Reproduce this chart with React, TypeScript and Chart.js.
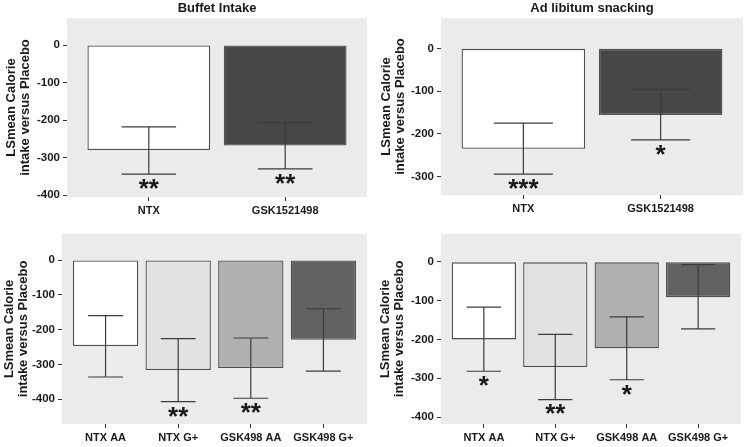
import React, { useEffect, useRef } from "react";
import { Chart, registerables } from "chart.js";

Chart.register(...registerables);

// ---------- data ----------
const topCategories = ["NTX", "GSK1521498"];
const bottomCategories = ["NTX AA", "NTX G+", "GSK498 AA", "GSK498 G+"];

const buffetTopMeans = [-280, -268];
const buffetTopErrHigh = [-218, -207];
const buffetTopErrLow = [-344, -330];
const buffetTopStars = ["**", "**"];
const buffetTopTicks = [0, -100, -200, -300, -400];

const snackTopMeans = [-235, -156];
const snackTopErrHigh = [-175, -96];
const snackTopErrLow = [-294, -214];
const snackTopStars = ["***", "*"];
const snackTopTicks = [0, -100, -200, -300];

const buffetBottomMeans = [-247, -316, -310, -229];
const buffetBottomErrHigh = [-160, -226, -224, -140];
const buffetBottomErrLow = [-336, -407, -397, -319];
const buffetBottomStars = ["", "**", "**", ""];
const buffetBottomTicks = [0, -100, -200, -300, -400];

const snackBottomMeans = [-200, -271, -223, -91];
const snackBottomErrHigh = [-117, -187, -142, -7];
const snackBottomErrLow = [-282, -355, -304, -173];
const snackBottomStars = ["*", "**", "*", ""];
const snackBottomTicks = [0, -100, -200, -300, -400];

const topColors = ["#ffffff", "#474747"];
const bottomColors = ["#ffffff", "#e2e2e2", "#b0b0b0", "#626262"];

const yTitleLines = ["LSmean Calorie", "intake versus Placebo"];
const titleBuffet = "Buffet Intake";
const titleSnack = "Ad libitum snacking";

const FONT = "'Liberation Sans', Arial, Helvetica, sans-serif";

type PanelProps = {
  left: number;
  top: number;
  width: number;
  height: number;
  title?: string;
  categories: string[];
  means: number[];
  hi: number[];
  lo: number[];
  stars: string[];
  colors: string[];
  yTicks: number[];
  yMin: number;
  yMax: number;
  area: { l: number; t: number; r: number; b: number };
  yTitlePad: number;
  capFrac: number;
};

function Panel(p: PanelProps) {
  const ref = useRef<HTMLCanvasElement | null>(null);
  useEffect(() => {
    if (!ref.current) return;
    const n = p.categories.length;

    const bgPlugin = {
      id: "bg",
      beforeDatasetsDraw(chart: any) {
        const { ctx, chartArea: a } = chart;
        ctx.save();
        ctx.fillStyle = "#ebebeb";
        ctx.fillRect(a.left, a.top, a.right - a.left, a.bottom - a.top);
        ctx.restore();
      },
    };

    const errPlugin = {
      id: "err",
      afterDatasetsDraw(chart: any) {
        const { ctx } = chart;
        const xs = chart.scales.x;
        const ys = chart.scales.y;
        const unit = xs.getPixelForValue(1) - xs.getPixelForValue(0);
        const half = (unit * p.capFrac) / 2;
        ctx.save();
        ctx.strokeStyle = "#3c3c3c";
        ctx.lineWidth = 1.2;
        for (let i = 0; i < n; i++) {
          const x = xs.getPixelForValue(i);
          const yh = ys.getPixelForValue(p.hi[i]);
          const yl = ys.getPixelForValue(p.lo[i]);
          ctx.beginPath();
          ctx.moveTo(x, yh);
          ctx.lineTo(x, yl);
          ctx.moveTo(x - half, yh);
          ctx.lineTo(x + half, yh);
          ctx.moveTo(x - half, yl);
          ctx.lineTo(x + half, yl);
          ctx.stroke();
          if (p.stars[i]) {
            const fs = 26;
            ctx.fillStyle = "#1a1a1a";
            ctx.font = `bold ${fs}px ${FONT}`;
            ctx.textAlign = "center";
            ctx.textBaseline = "alphabetic";
            ctx.fillText(p.stars[i], x, yl + 8 + fs * 0.57);
          }
        }
        ctx.restore();
      },
    };

    const titlePlugin = {
      id: "ptitle",
      afterDraw(chart: any) {
        if (!p.title) return;
        const { ctx, chartArea: a } = chart;
        ctx.save();
        ctx.fillStyle = "#1a1a1a";
        ctx.font = `bold 13px ${FONT}`;
        ctx.textAlign = "center";
        ctx.textBaseline = "alphabetic";
        ctx.fillText(p.title, (a.left + a.right) / 2, 12);
        ctx.restore();
      },
    };

    const chart = new Chart(ref.current, {
      type: "bar",
      data: {
        datasets: [
          {
            data: p.means.map((v, i) => ({ x: i, y: v })),
            backgroundColor: p.colors,
            borderColor: "#505050",
            borderWidth: 1.3,
            borderSkipped: false,
            categoryPercentage: 1,
            barPercentage: 0.9,
          },
        ],
      },
      options: {
        animation: false,
        responsive: false,
        devicePixelRatio: 1,
        events: [],
        layout: {
          padding: { top: p.area.t, right: p.width - p.area.r, left: 0, bottom: 0 },
        },
        plugins: {
          legend: { display: false },
          tooltip: { enabled: false },
          title: { display: false },
        },
        scales: {
          x: {
            type: "linear",
            offset: false,
            min: -0.6,
            max: n - 1 + 0.6,
            afterBuildTicks(scale: any) {
              scale.ticks = p.categories.map((_, i) => ({ value: i }));
            },
            afterFit(scale: any) {
              scale.height = p.height - p.area.b;
            },
            ticks: {
              callback: (v: any) => p.categories[Math.round(Number(v))] ?? "",
              font: { family: FONT, size: 11, weight: "bold" },
              color: "#1a1a1a",
              padding: 3,
              maxRotation: 0,
              autoSkip: false,
            },
            grid: {
              display: true,
              offset: false,
              drawOnChartArea: false,
              drawTicks: true,
              tickLength: 4,
              color: "#333333",
              lineWidth: 1,
            },
            border: { display: false },
          },
          y: {
            type: "linear",
            min: p.yMin,
            max: p.yMax,
            afterBuildTicks(scale: any) {
              scale.ticks = p.yTicks.map((v) => ({ value: v }));
            },
            afterFit(scale: any) {
              scale.width = p.area.l;
            },
            ticks: {
              font: { family: FONT, size: 11.5, weight: "bold" },
              color: "#1a1a1a",
              padding: 3,
            },
            grid: {
              display: true,
              drawOnChartArea: false,
              drawTicks: true,
              tickLength: 4,
              color: "#333333",
              lineWidth: 1,
            },
            border: { display: false },
            title: {
              display: true,
              text: yTitleLines,
              font: { family: FONT, size: 13, weight: "bold", lineHeight: 1.05 },
              color: "#1a1a1a",
              padding: { top: p.yTitlePad, bottom: 0 },
            },
          },
        },
      } as any,
      plugins: [bgPlugin, errPlugin, titlePlugin],
    });
    return () => chart.destroy();
  }, []);

  return (
    <canvas
      ref={ref}
      width={p.width}
      height={p.height}
      style={{
        position: "absolute",
        left: p.left,
        top: p.top,
        width: p.width,
        height: p.height,
      }}
    />
  );
}

export default function App() {
  return (
    <div
      style={{
        position: "fixed",
        left: 0,
        top: 0,
        width: 746,
        height: 447,
        background: "#ffffff",
        overflow: "hidden",
      }}
    >
      <Panel
        left={0}
        top={0}
        width={373}
        height={224}
        title={titleBuffet}
        categories={topCategories}
        means={buffetTopMeans}
        hi={buffetTopErrHigh}
        lo={buffetTopErrLow}
        stars={buffetTopStars}
        colors={topColors}
        yTicks={buffetTopTicks}
        yMin={-405}
        yMax={72}
        area={{ l: 67, t: 18, r: 367, b: 197 }}
        yTitlePad={5}
        capFrac={0.4}
      />
      <Panel
        left={373}
        top={0}
        width={373}
        height={224}
        title={titleSnack}
        categories={topCategories}
        means={snackTopMeans}
        hi={snackTopErrHigh}
        lo={snackTopErrLow}
        stars={snackTopStars}
        colors={topColors}
        yTicks={snackTopTicks}
        yMin={-343}
        yMax={71}
        area={{ l: 68, t: 18, r: 370, b: 195 }}
        yTitlePad={6.5}
        capFrac={0.43}
      />
      <Panel
        left={0}
        top={224}
        width={373}
        height={223}
        categories={bottomCategories}
        means={buffetBottomMeans}
        hi={buffetBottomErrHigh}
        lo={buffetBottomErrLow}
        stars={buffetBottomStars}
        colors={bottomColors}
        yTicks={buffetBottomTicks}
        yMin={-471}
        yMax={75}
        area={{ l: 62, t: 2, r: 367, b: 200 }}
        yTitlePad={3}
        capFrac={0.48}
      />
      <Panel
        left={373}
        top={224}
        width={373}
        height={223}
        categories={bottomCategories}
        means={snackBottomMeans}
        hi={snackBottomErrHigh}
        lo={snackBottomErrLow}
        stars={snackBottomStars}
        colors={bottomColors}
        yTicks={snackBottomTicks}
        yMin={-418}
        yMax={72}
        area={{ l: 68, t: 2, r: 368, b: 200 }}
        yTitlePad={5.5}
        capFrac={0.48}
      />
    </div>
  );
}
